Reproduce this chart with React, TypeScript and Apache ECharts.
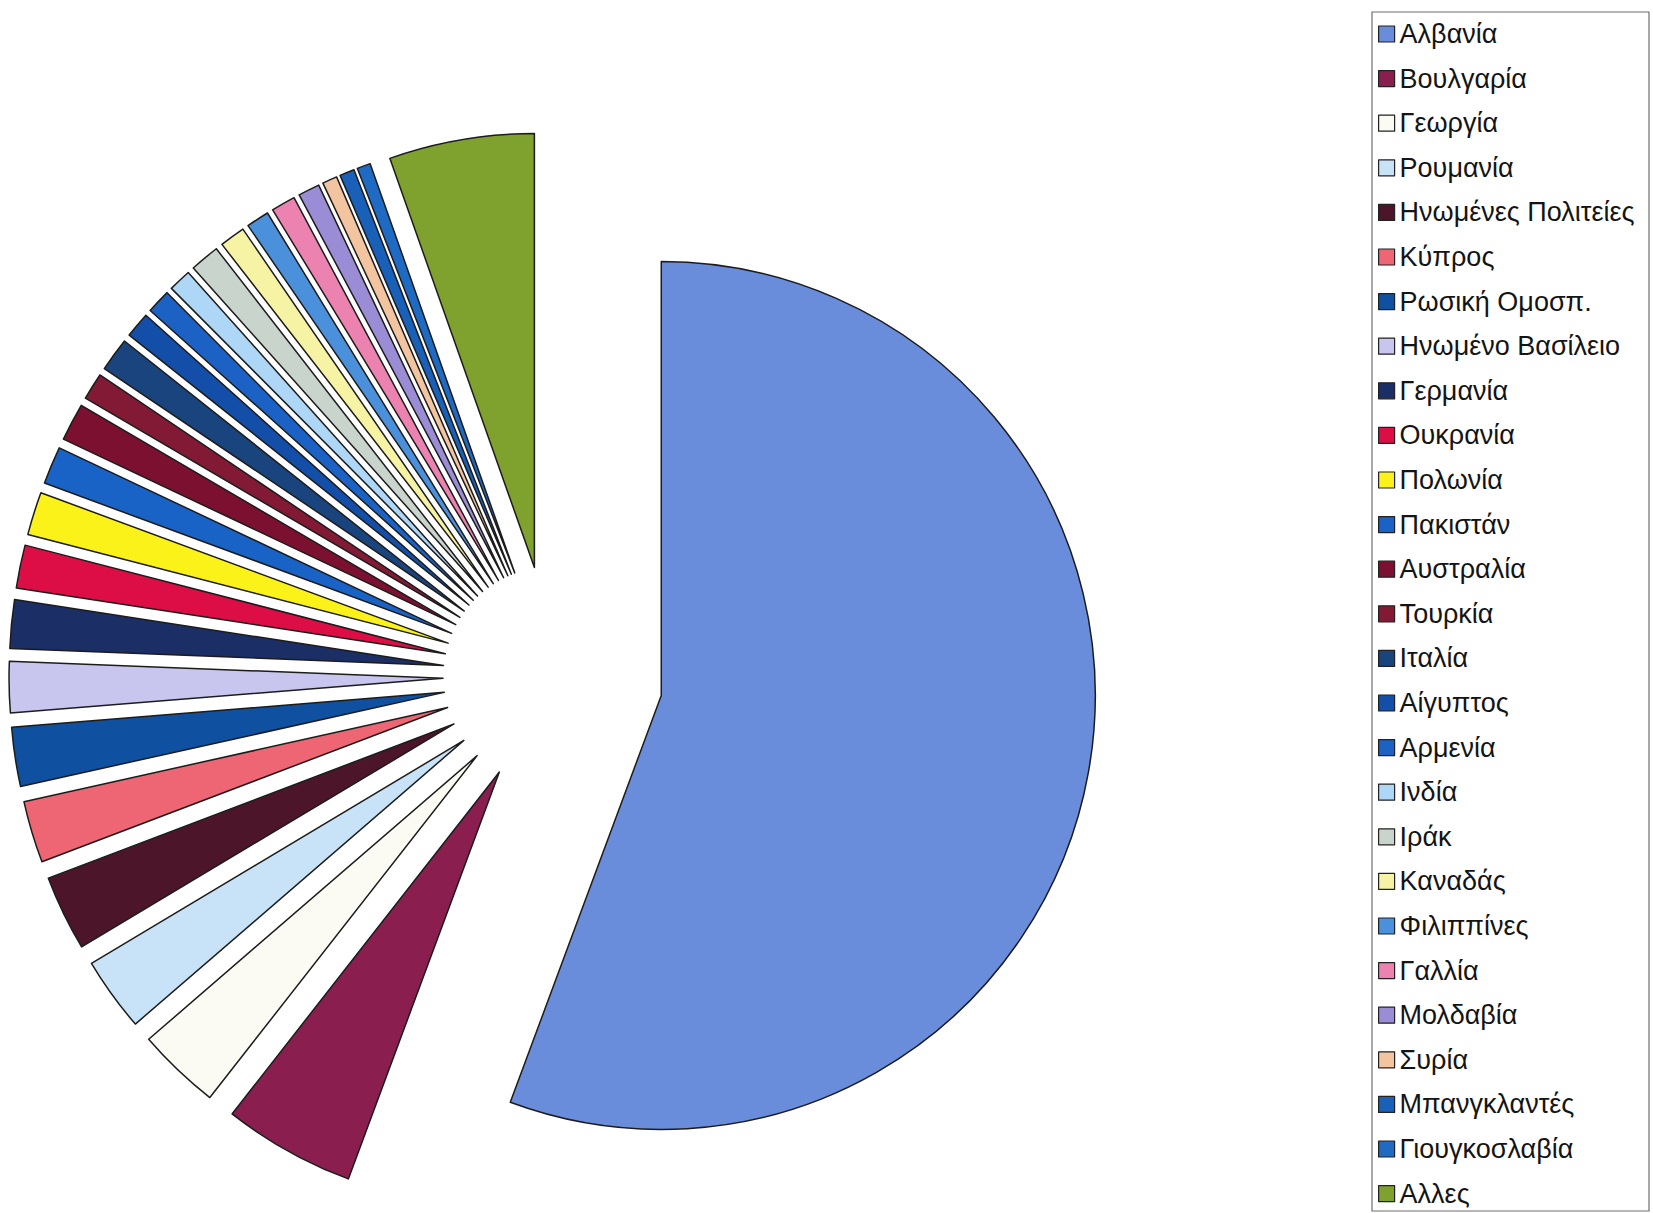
import React, { useEffect, useRef } from "react";
import * as echarts from "echarts";

// Countries, clockwise from 12 o'clock
const countries = [
  "Αλβανία",
  "Βουλγαρία",
  "Γεωργία",
  "Ρουμανία",
  "Ηνωμένες Πολιτείες",
  "Κύπρος",
  "Ρωσική Ομοσπ.",
  "Ηνωμένο Βασίλειο",
  "Γερμανία",
  "Ουκρανία",
  "Πολωνία",
  "Πακιστάν",
  "Αυστραλία",
  "Τουρκία",
  "Ιταλία",
  "Αίγυπτος",
  "Αρμενία",
  "Ινδία",
  "Ιράκ",
  "Καναδάς",
  "Φιλιππίνες",
  "Γαλλία",
  "Μολδαβία",
  "Συρία",
  "Μπανγκλαντές",
  "Γιουγκοσλαβία",
  "Αλλες",
];

// Share of each country (%)
const shares = [
  55.6, 4.9, 3.1, 2.75, 2.8, 2.3, 2.2, 1.9, 1.8, 1.6, 1.6, 1.4, 1.4, 1.0,
  1.25, 0.95, 0.9, 0.85, 1.1, 0.95, 0.85, 0.9, 0.8, 0.55, 0.55, 0.5, 5.4,
];

const colors = [
  "#6a8ddb", // Αλβανία
  "#8a1f4f", // Βουλγαρία
  "#fbfbf3", // Γεωργία
  "#c8e3f8", // Ρουμανία
  "#4d1529", // Ηνωμένες Πολιτείες
  "#ee6673", // Κύπρος
  "#1050a0", // Ρωσική Ομοσπ.
  "#c8c6ee", // Ηνωμένο Βασίλειο
  "#1b2f66", // Γερμανία
  "#dd0e45", // Ουκρανία
  "#fbf21a", // Πολωνία
  "#1a63c6", // Πακιστάν
  "#7b1030", // Αυστραλία
  "#821a36", // Τουρκία
  "#1a447d", // Ιταλία
  "#134ea8", // Αίγυπτος
  "#1c62c4", // Αρμενία
  "#aed6f6", // Ινδία
  "#c9d4cc", // Ιράκ
  "#f6f3a4", // Καναδάς
  "#4a90da", // Φιλιππίνες
  "#ec82b0", // Γαλλία
  "#9a8dd6", // Μολδαβία
  "#f2c4a0", // Συρία
  "#1860b8", // Μπανγκλαντές
  "#1f6ac2", // Γιουγκοσλαβία
  "#7fa12e", // Αλλες
];

const FONT = "'Liberation Sans', Arial, Helvetica, sans-serif";

export default function App() {
  const ref = useRef<HTMLDivElement>(null);

  useEffect(() => {
    if (!ref.current) return;
    const chart = echarts.init(ref.current, null, { renderer: "svg" });
    chart.setOption({
      animation: false,
      backgroundColor: "#ffffff",
      graphic: [
        {
          type: "rect",
          z: 0,
          shape: { x: 1372, y: 12, width: 277, height: 1199 },
          style: { fill: "#ffffff", stroke: "#6e6e6e", lineWidth: 1.2 },
        },
      ],
      legend: {
        orient: "vertical",
        left: 1378,
        top: 20,
        height: 1200,
        padding: 0,
        itemGap: 16.6,
        itemWidth: 16,
        itemHeight: 16,
        icon: "rect",
        selectedMode: false,
        itemStyle: { borderColor: "#222222", borderWidth: 1.2 },
        textStyle: {
          fontFamily: FONT,
          fontSize: 27,
          lineHeight: 28,
          color: "#141414",
        },
        data: countries,
      },
      series: [
        {
          type: "pie",
          center: [553, 676],
          radius: 434,
          startAngle: 90,
          clockwise: true,
          selectedMode: "multiple",
          selectedOffset: 110,
          avoidLabelOverlap: false,
          label: { show: false },
          labelLine: { show: false },
          emphasis: { disabled: true },
          itemStyle: { borderColor: "#1c1c1c", borderWidth: 1.5 },
          data: countries.map((name, i) => ({
            name,
            value: shares[i],
            selected: true,
            itemStyle: { color: colors[i] },
          })),
        },
      ],
    });
    return () => chart.dispose();
  }, []);

  return (
    <div
      ref={ref}
      style={{ position: "fixed", left: 0, top: 0, width: 1653, height: 1213 }}
    />
  );
}
